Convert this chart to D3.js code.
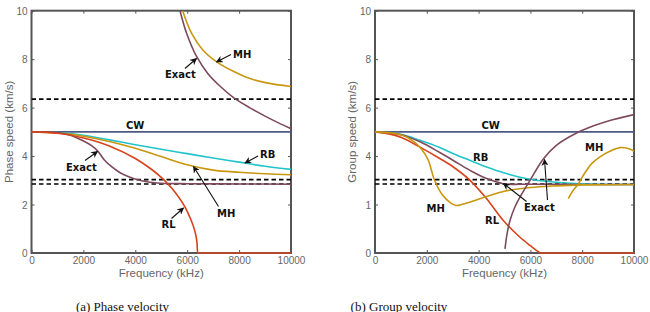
<!DOCTYPE html>
<html>
<head>
<meta charset="utf-8">
<script src="https://cdn.jsdelivr.net/npm/d3@7"></script>
<style>
  body { margin: 0; background: #fff; }
  svg text { font-family: "Liberation Sans", Arial, sans-serif; }
  .note { font-family: "DejaVu Sans", sans-serif; font-weight: bold; font-size: 10px; fill: #111; }
  .caption { font-family: "Liberation Serif", "Times New Roman", serif; font-size: 13px; fill: #111; }
</style>
</head>
<body>
<div id="chart"></div>
<script>
// --- data (frequency in kHz, speed in km/s) ---
const xTicks = [0, 2000, 4000, 6000, 8000, 10000];
const yTicks = [0, 2, 4, 6, 8, 10];
const phaseYTickLabels = ["0", "2", "4", "6", "8", "10"];
const groupYTickLabels = ["0", "1", "4", "6", "8", "10"];
const dashedLevels = [6.35, 3.03, 2.85];
const cwLevel = 5;

// phase velocity
const phaseRB = {f: [0, 1000, 2000, 3000, 4000, 5000, 6000, 7000, 8000, 9000, 10000],
                 v: [5.0, 4.97, 4.86, 4.67, 4.47, 4.28, 4.10, 3.92, 3.75, 3.58, 3.45]};
const phaseMH = {f: [0, 1000, 2000, 3000, 4000, 5000, 6000, 7000, 8000, 9000, 10000],
                 v: [5.0, 4.96, 4.82, 4.60, 4.32, 3.98, 3.64, 3.42, 3.33, 3.27, 3.23]};
const phaseRL = {f: [0, 1000, 2000, 3000, 4000, 4500, 5000, 5500, 6000, 6200, 6300, 6380, 6400, 10000],
                 v: [5.0, 4.94, 4.75, 4.42, 3.90, 3.55, 3.12, 2.55, 1.72, 1.22, 0.88, 0.40, 0, 0]};
const phaseExact = {f: [0, 500, 1000, 1500, 2000, 2300, 2560, 2800, 3100, 3400, 3700, 4100, 4500, 5000, 6000, 8000, 10000],
                    v: [5.0, 5.0, 4.97, 4.86, 4.62, 4.44, 4.20, 3.85, 3.55, 3.32, 3.17, 3.02, 2.93, 2.88, 2.86, 2.85, 2.84]};
const phaseExactUpper = {f: [5722, 5980, 6366, 6800, 7300, 7800, 8400, 9000, 9500, 10000],
                         v: [10, 9.06, 8.10, 7.40, 6.85, 6.40, 6.00, 5.65, 5.38, 5.13]};
const phaseMHUpper = {f: [5823, 6172, 6600, 7135, 7777, 8420, 9062, 10000],
                      v: [10, 9.06, 8.38, 7.89, 7.50, 7.20, 7.02, 6.87]};

// group velocity
const groupRB = {f: [0, 1000, 1737, 2500, 3024, 3668, 4311, 5000, 5598, 6242, 6885, 8172, 10000],
                 v: [5.0, 4.90, 4.65, 4.35, 4.10, 3.82, 3.55, 3.30, 3.13, 3.00, 2.93, 2.85, 2.83]};
const groupExact = {f: [0, 1000, 1737, 2500, 3024, 3668, 4311, 4955, 6000, 8000, 10000],
                    v: [5.0, 4.88, 4.59, 4.15, 3.82, 3.41, 3.07, 2.86, 2.84, 2.83, 2.83]};
const groupRL = {f: [0, 1000, 1737, 2500, 3024, 3668, 4311, 4955, 5598, 6000, 6242, 6400, 10000],
                 v: [5.0, 4.78, 4.37, 3.90, 3.55, 3.00, 2.24, 1.34, 0.65, 0.30, 0.10, 0, 0]};
const groupMH = {f: [0, 1000, 1500, 1800, 2050, 2300, 2600, 2900, 3130, 3400, 3860, 4400, 5000, 6000, 7000, 8000, 10000],
                 v: [5.0, 4.88, 4.60, 4.28, 3.85, 3.00, 2.40, 2.08, 1.96, 2.02, 2.17, 2.36, 2.55, 2.70, 2.77, 2.81, 2.83]};
const groupExactUpper = {f: [5019, 5100, 5212, 5400, 5598, 5985, 6500, 7014, 7786, 8500, 9008, 10000],
                         v: [0.17, 0.80, 1.34, 1.90, 2.31, 3.00, 3.88, 4.45, 4.95, 5.27, 5.45, 5.71]};
const groupMHUpper = {f: [7465, 7600, 7851, 8100, 8366, 8700, 9008, 9459, 9800, 10000],
                      v: [2.24, 2.50, 2.86, 3.30, 3.69, 3.98, 4.17, 4.35, 4.30, 4.20]};

const colors = {cw: "#4b5a86", rb: "#22c4cc", mh: "#c8960f", rl: "#d8431c", exact: "#7d4a5e"};

// --- layout ---
const W = 650, H = 312;
const svg = d3.select("#chart").append("svg").attr("width", W).attr("height", H);

const panels = [
  {
    x0: 31.5, x1: 291, yLabel: "Phase speed (km/s)", yLabelX: 9, yTickLabels: phaseYTickLabels,
    caption: "(a)  Phase velocity", captionX: 122.5,
    series: [
      [phaseExactUpper, "exact"], [phaseMHUpper, "mh"],
      [phaseRB, "rb"], [phaseMH, "mh"], [phaseExact, "exact"], [phaseRL, "rl"]
    ],
    notes: [
      {t: "MH", x: 233, y: 58, from: [231, 54.5], to: [216.5, 62]},
      {t: "Exact", x: 165, y: 78, from: [185, 68.5], to: [196.5, 58.5]},
      {t: "CW", x: 126, y: 128.5},
      {t: "RB", x: 260, y: 158, from: [258, 156], to: [245, 163]},
      {t: "Exact", x: 66, y: 170.5, from: [85, 160.5], to: [97.5, 151.5]},
      {t: "MH", x: 217, y: 217, from: [218.5, 206.5], to: [193.5, 166.5]},
      {t: "RL", x: 161.5, y: 228, from: [171.5, 218.5], to: [183.5, 208]}
    ]
  },
  {
    x0: 375, x1: 634, yLabel: "Group speed (km/s)", yLabelX: 352, yTickLabels: groupYTickLabels,
    caption: "(b)  Group velocity", captionX: 399,
    series: [
      [groupRB, "rb"], [groupExact, "exact"], [groupRL, "rl"], [groupMH, "mh"],
      [groupExactUpper, "exact"], [groupMHUpper, "mh"]
    ],
    notes: [
      {t: "CW", x: 481.5, y: 129},
      {t: "MH", x: 585, y: 150.5},
      {t: "RB", x: 473, y: 161},
      {t: "MH", x: 426.5, y: 212},
      {t: "RL", x: 485, y: 224},
      {t: "Exact", x: 524, y: 211, from: [526.5, 201.5], to: [503.5, 183.5]},
      {t: null, from: [547.5, 200], to: [544.5, 159.5]}
    ]
  }
];

const yTop = 10.7, yBottom = 253;

svg.append("defs").append("marker")
  .attr("id", "arrow")
  .attr("viewBox", "0 0 10 10")
  .attr("refX", 9).attr("refY", 5)
  .attr("markerWidth", 7).attr("markerHeight", 7)
  .attr("markerUnits", "userSpaceOnUse")
  .attr("orient", "auto")
  .append("path").attr("d", "M0,0 L10,5 L0,10 L3,5 Z").attr("fill", "#111");

panels.forEach((p, i) => {
  const x = d3.scaleLinear().domain([0, 10000]).range([p.x0, p.x1]);
  const y = d3.scaleLinear().domain([0, 10]).range([yBottom, yTop]);
  const g = svg.append("g");

  g.append("clipPath").attr("id", "clip" + i)
    .append("rect").attr("x", p.x0).attr("y", yTop)
    .attr("width", p.x1 - p.x0).attr("height", yBottom - yTop + 2);

  // frame with inward ticks on all sides
  const axisColor = "#555";
  const tickLen = 3;
  const bottom = g.append("g").attr("transform", `translate(0,${yBottom})`)
    .call(d3.axisBottom(x).tickValues(xTicks).tickSizeInner(-tickLen).tickSizeOuter(0).tickPadding(4).tickFormat(d3.format("d")));
  const top = g.append("g").attr("transform", `translate(0,${yTop})`)
    .call(d3.axisTop(x).tickValues(xTicks).tickSizeInner(-tickLen).tickSizeOuter(0).tickFormat(""));
  const left = g.append("g").attr("transform", `translate(${p.x0},0)`)
    .call(d3.axisLeft(y).tickValues(yTicks).tickSizeInner(-tickLen).tickSizeOuter(0).tickPadding(4)
      .tickFormat((d, k) => p.yTickLabels[k]));
  const right = g.append("g").attr("transform", `translate(${p.x1},0)`)
    .call(d3.axisRight(y).tickValues(yTicks).tickSizeInner(-tickLen).tickSizeOuter(0).tickFormat(""));
  [bottom, top, left, right].forEach(a => {
    a.select(".domain").remove();
    a.selectAll(".tick line").attr("stroke", axisColor).attr("stroke-width", 1);
    a.selectAll(".tick text").attr("fill", "#666").style("font-size", "10px")
      .style("font-family", "'Liberation Sans', Arial, sans-serif");
  });
  left.selectAll(".tick text").attr("dy", "0.35em");

  g.append("rect").attr("x", p.x0).attr("y", yTop)
    .attr("width", p.x1 - p.x0).attr("height", yBottom - yTop)
    .attr("fill", "none").attr("stroke", axisColor).attr("stroke-width", 2);

  const plot = g.append("g").attr("clip-path", `url(#clip${i})`);

  // dashed reference levels
  dashedLevels.forEach(lv => {
    plot.append("line").attr("x1", p.x0).attr("x2", p.x1)
      .attr("y1", y(lv)).attr("y2", y(lv))
      .attr("stroke", "#000").attr("stroke-width", 1.6).attr("stroke-dasharray", "4.5,3");
  });

  // CW
  plot.append("line").attr("x1", p.x0).attr("x2", p.x1)
    .attr("y1", y(cwLevel)).attr("y2", y(cwLevel))
    .attr("stroke", colors.cw).attr("stroke-width", 1.6);

  // RL curves meet zero steeply: monotone keeps them from dipping below the axis
  const smooth = d3.line().curve(d3.curveCatmullRom.alpha(0.5))
    .x(d => x(d[0])).y(d => y(d[1]));
  const monotone = d3.line().curve(d3.curveMonotoneX)
    .x(d => x(d[0])).y(d => y(d[1]));

  p.series.forEach(([s, key]) => {
    const gen = key === "rl" ? monotone : smooth;
    plot.append("path")
      .attr("d", gen(d3.zip(s.f, s.v)))
      .attr("fill", "none").attr("stroke", colors[key]).attr("stroke-width", 1.6);
  });

  // annotations
  p.notes.forEach(n => {
    if (n.t) g.append("text").attr("class", "note").attr("x", n.x).attr("y", n.y).text(n.t);
    if (n.from) {
      g.append("line").attr("x1", n.from[0]).attr("y1", n.from[1])
        .attr("x2", n.to[0]).attr("y2", n.to[1])
        .attr("stroke", "#111").attr("stroke-width", 1.1).attr("marker-end", "url(#arrow)");
    }
  });

  // axis labels
  g.append("text").attr("x", (p.x0 + p.x1) / 2).attr("y", 277)
    .attr("text-anchor", "middle").attr("fill", "#666").style("font-size", "11.5px")
    .text("Frequency (kHz)");
  g.append("text")
    .attr("transform", `translate(${p.yLabelX},${(yTop + yBottom) / 2}) rotate(-90)`)
    .attr("text-anchor", "middle").attr("dy", "0.35em").attr("fill", "#666").style("font-size", "11.5px")
    .text(p.yLabel);

  // caption (cut by the bottom edge, as in the reference)
  g.append("text").attr("class", "caption")
    .attr("x", p.captionX).attr("y", 310.5)
    .attr("text-anchor", "middle").text(p.caption);
});
</script>
</body>
</html>
